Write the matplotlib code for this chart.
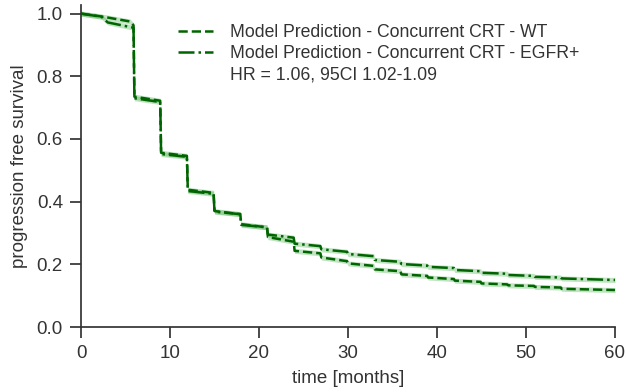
import numpy as np
import matplotlib
matplotlib.use("Agg")
import matplotlib.pyplot as plt
from matplotlib.lines import Line2D

# Kaplan-Meier style model predictions (months, PFS)
wt_months = [0, 2.5, 5.5, 5.9, 6, 8.9, 9, 11.9, 12, 14.9, 15, 17.9, 18, 20.9, 21,
             23.9, 24, 26.9, 27, 29.9, 30, 32.9, 33, 35.9, 36, 38.9, 39, 41.9, 42,
             44.9, 45, 47.9, 48, 50.9, 51, 53.9, 54, 60]
wt_pfs = [1.0, 0.99, 0.975, 0.963, 0.735, 0.722, 0.556, 0.546, 0.438, 0.428, 0.37,
          0.36, 0.328, 0.318, 0.287, 0.272, 0.243, 0.235, 0.222, 0.21, 0.203, 0.195,
          0.184, 0.178, 0.168, 0.163, 0.158, 0.153, 0.148, 0.144, 0.139, 0.136,
          0.133, 0.131, 0.128, 0.126, 0.122, 0.118]

egfr_months = [0, 2.3, 3.0, 5.9, 6, 8.9, 9, 11.9, 12, 14.9, 15, 17.9, 18, 20.9, 21,
               23.9, 24, 26.9, 27, 29.9, 30, 32.9, 33, 35.9, 36, 38.9, 39, 41.9, 42,
               44.9, 45, 47.9, 48, 50.9, 51, 53.9, 54, 60]
egfr_pfs = [1.0, 0.99, 0.972, 0.955, 0.73, 0.718, 0.552, 0.543, 0.434, 0.425, 0.368,
            0.36, 0.326, 0.318, 0.295, 0.285, 0.266, 0.258, 0.248, 0.24, 0.233, 0.226,
            0.214, 0.208, 0.201, 0.196, 0.192, 0.188, 0.182, 0.178, 0.173, 0.17,
            0.166, 0.163, 0.16, 0.158, 0.155, 0.15]

ci_half = 0.008  # approx. half-width of the shaded band

labels = ["Model Prediction - Concurrent CRT - WT",
          "Model Prediction - Concurrent CRT - EGFR+"]
hr_text = "HR = 1.06, 95CI 1.02-1.09"

plt.rcParams["font.family"] = ["Liberation Sans", "DejaVu Sans"]
text_col = "#333333"
green = "#006400"

fig = plt.figure(figsize=(6.26, 3.92), dpi=100)
ax = fig.add_axes([0.1294, 0.1658, 0.853, 0.821])

curves = [(wt_months, wt_pfs, "--"), (egfr_months, egfr_pfs, "-.")]
for (t, s, ls), lab in zip(curves, labels):
    t = np.array(t)
    s = np.array(s)
    ax.fill_between(t, s - ci_half, s + ci_half, color="#4caf50", alpha=0.35, lw=0)
    ax.plot(t, s, ls=ls, color=green, lw=1.8, label=lab)

handles, _ = ax.get_legend_handles_labels()
handles.append(Line2D([], [], color="none"))
leg = ax.legend(handles, labels + [hr_text], loc="upper left",
                bbox_to_anchor=(0.161, 0.975), frameon=False, fontsize=12.7,
                handlelength=2.0, handletextpad=0.95, labelspacing=0.25,
                borderaxespad=0.2)
for txt in leg.get_texts():
    txt.set_color(text_col)

ax.set_xlim(0, 60)
ax.set_ylim(0, 1.027)
ax.set_xticks(range(0, 61, 10))
ax.set_yticks([0.0, 0.2, 0.4, 0.6, 0.8, 1.0])
ax.set_yticklabels(["0.0", "0.2", "0.4", "0.6", "0.8", "1.0"])
ax.set_xlabel("time [months]", fontsize=13.5, color=text_col, labelpad=6)
ax.set_ylabel("progression free survival", fontsize=13.5, color=text_col, labelpad=6)

for side in ["top", "right"]:
    ax.spines[side].set_visible(False)
for side in ["left", "bottom"]:
    ax.spines[side].set_color(text_col)
    ax.spines[side].set_linewidth(1.25)
ax.tick_params(direction="out", length=8, width=1.25, color=text_col,
               labelcolor=text_col, labelsize=13.5, pad=5)

fig.savefig("out.png", dpi=100)
